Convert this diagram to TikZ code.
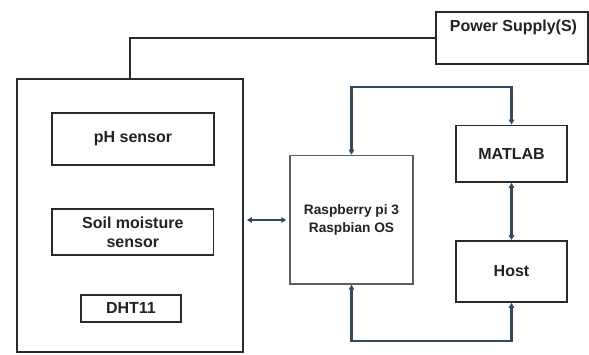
\documentclass[tikz,border=0pt]{standalone}
\usepackage{fontspec}
\setmainfont{Liberation Sans}
\usetikzlibrary{arrows.meta}
\definecolor{boxline}{HTML}{2A2A2A}
\definecolor{raspline}{HTML}{5A5F66}
\definecolor{conn}{HTML}{34495E}
\definecolor{txt}{HTML}{222222}
\tikzset{
  box/.style={draw=boxline, line width=1.8pt, inner sep=0pt, align=center,
    font=\bfseries\fontsize{16}{19}\selectfont, text=txt},
  raspbox/.style={box, draw=raspline, line width=1.5pt,
    font=\bfseries\fontsize{13.7}{18}\selectfont},
  conn/.style={draw=conn, line width=2.1pt},
  twotip/.style={{Triangle[length=5pt,width=5.5pt]}-{Triangle[length=5pt,width=5.5pt]}},
  pwr/.style={draw=boxline, line width=1.8pt}
}
\begin{document}
\begin{tikzpicture}[x=1pt,y=-1pt]
\useasboundingbox (0,0) rectangle (589,354);
\fill[white] (0,0) rectangle (589,354);
% boxes
\node[box, minimum width=152pt, minimum height=51.7pt] (power) at (512,38.2) {};
\node[box, draw=none, anchor=center] (powertext) at (513.5,27.5) {Power Supply(S)};
\node[box, minimum width=226pt, minimum height=273pt] (big) at (130,215.5) {};
\node[box, minimum width=162pt, minimum height=52.3pt] (ph) at (133,139) {pH sensor};
\node[box, minimum width=161.5pt, minimum height=46pt] (soil) at (132.8,232) {Soil moisture\\sensor};
\node[box, minimum width=100pt, minimum height=26.7pt] (dht) at (131,308.3) {DHT11};
\node[raspbox, minimum width=123pt, minimum height=128.5pt] (rasp) at (351.5,219.7) {Raspberry pi 3\\Raspbian OS};
\node[box, minimum width=111pt, minimum height=56.5pt] (matlab) at (511.5,153.7) {MATLAB};
\node[box, minimum width=111pt, minimum height=61pt] (host) at (511.5,271.5) {Host};
% helper coordinates
\coordinate (toploop) at (430,87);
\coordinate (botloop) at (430,341);
% connectors
\draw[pwr] (power.west) -| (big.north);
\draw[conn, twotip] (rasp.north) -- (rasp.north |- toploop) -| (matlab.north);
\draw[conn, twotip] (rasp.south) -- (rasp.south |- botloop) -| (host.south);
\draw[conn, twotip] (matlab.south) -- (host.north);
\draw[conn, twotip, shorten <=3pt, shorten >=3pt] (big.east |- 0,220) -- (rasp.west |- 0,220);
\end{tikzpicture}
\end{document}
